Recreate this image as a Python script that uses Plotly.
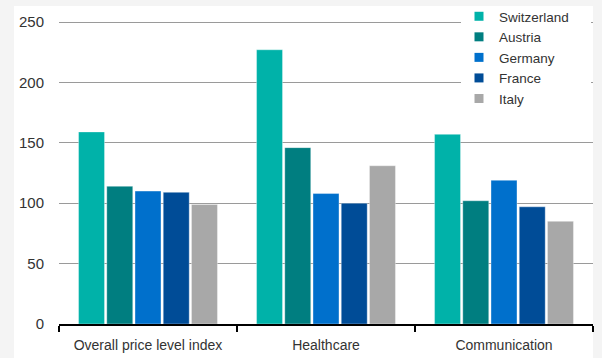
import plotly.graph_objects as go

categories = ["Overall price level index", "Healthcare", "Communication"]
countries = ["Switzerland", "Austria", "Germany", "France", "Italy"]
switzerland = [159, 227, 157]
austria = [114, 146, 102]
germany = [110, 108, 119]
france = [109, 100, 97]
italy = [99, 131, 85]
series = [switzerland, austria, germany, france, italy]
colors = ["#00b2a9", "#007e80", "#0070cc", "#004c97", "#a8a8a8"]
y_ticks = [0, 50, 100, 150, 200, 250]

FONT = "Liberation Sans, Arial, sans-serif"
W, H = 602, 358
L, R, T, B = 59, 9, 1, 34
PW, PH = W - L - R, H - T - B
# value 0 sits at y=324 px, value 250 at y=22 px
Y_MAX = 250 * PH / (H - B - 22)


def px_x(x):
    return (x - L) / PW


def px_y(y):
    return (H - B - y) / PH


fig = go.Figure()
for name, vals, col in zip(countries, series, colors):
    fig.add_trace(go.Bar(
        x=categories, y=vals, name=name, showlegend=False,
        marker=dict(color=col, line=dict(color="rgba(255,255,255,0.35)", width=1)),
    ))
# legend entries with small square swatches
for name, col in zip(countries, colors):
    fig.add_trace(go.Scatter(
        x=[None], y=[None], name=name, mode="markers",
        marker=dict(symbol="square", size=9, color=col),
    ))

fig.update_layout(
    width=W, height=H,
    margin=dict(l=L, r=R, t=T, b=B),
    paper_bgcolor="#f4f4f4",
    plot_bgcolor="rgba(0,0,0,0)",
    barmode="group",
    bargap=0.207,
    bargroupgap=0.08,
    font=dict(family=FONT, size=14, color="#333333"),
    showlegend=True,
    legend=dict(
        x=px_x(459), xanchor="left",
        y=1, yanchor="top",
        bgcolor="rgba(0,0,0,0)", borderwidth=0,
        font=dict(family=FONT, size=13.5, color="#333333"),
        tracegroupgap=0,
    ),
    shapes=[
        dict(type="rect", xref="paper", yref="paper",
             x0=px_x(14), x1=px_x(593), y0=-0.2, y1=px_y(6),
             fillcolor="white", line=dict(width=0), layer="below"),
        dict(type="rect", xref="paper", yref="paper",
             x0=px_x(461), x1=px_x(591), y0=px_y(110), y1=px_y(6),
             fillcolor="white", line=dict(width=0), layer="above"),
    ],
)
fig.update_xaxes(
    showline=True, linecolor="black", linewidth=1.5,
    ticks="outside", tickson="boundaries", ticklen=6, tickcolor="black", tickwidth=1.5,
    showgrid=False, ticklabelstandoff=7,
    tickfont=dict(family=FONT, size=14, color="#333333"),
)
fig.update_yaxes(
    range=[0, Y_MAX], tickvals=y_ticks,
    showgrid=True, gridcolor="#9a9a9a", gridwidth=1,
    zeroline=False, showline=False, ticks="",
    ticklabelstandoff=14,
    tickfont=dict(family=FONT, size=15, color="#333333"),
)

fig.write_html("out.html")
